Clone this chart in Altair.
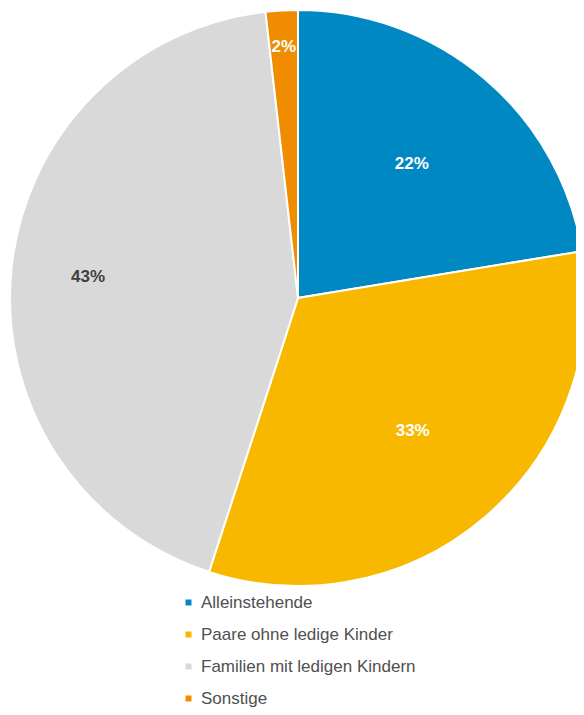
import altair as alt
import pandas as pd

categories = ["Alleinstehende", "Paare ohne ledige Kinder", "Familien mit ledigen Kindern", "Sonstige"]
shares = [22.4, 32.6, 43.2, 1.8]
colors = ["#0088C2", "#F9B800", "#D9D9D9", "#F08C00"]

df = pd.DataFrame({
    "Kategorie": categories,
    "Anteil": shares,
    "idx": list(range(len(categories))),
})

theta_scale = alt.Scale(domain=[0, 100], range=[0, 6.283185307])

arcs = alt.Chart(df).mark_arc(outerRadius=288, stroke="white", strokeWidth=2).encode(
    theta=alt.Theta("Anteil:Q", stack=True, scale=theta_scale),
    order=alt.Order("idx:Q", sort="ascending"),
    x=alt.value(290),
    y=alt.value(290),
    color=alt.Color(
        "Kategorie:N",
        scale=alt.Scale(domain=categories, range=colors),
        sort=categories,
        legend=alt.Legend(
            title=None,
            orient="none",
            legendX=172,
            legendY=586,
            symbolType="square",
            symbolSize=36,
            symbolStrokeWidth=0,
            labelFontSize=17,
            labelFont="Liberation Sans",
            labelColor="#505050",
            labelLimit=0,
            rowPadding=14,
            labelOffset=4,
        ),
    ),
)

labels = alt.Chart(df).transform_window(
    cum="sum(Anteil)", sort=[alt.SortField("idx", order="ascending")], frame=[None, 0]
).transform_calculate(
    mid="datum.cum - datum.Anteil / 2",
    lbl="format(datum.Anteil / 100, '.0%')",
    r="datum.Anteil < 5 ? 251 : (datum.Anteil > 40 ? 211 : 176)",
).mark_text(fontSize=17, fontWeight="bold", font="Liberation Sans").encode(
    theta=alt.Theta("mid:Q", stack=None, scale=theta_scale),
    radius=alt.Radius("r:Q", scale=None),
    x=alt.value(290),
    y=alt.value(290),
    text="lbl:N",
    color=alt.condition("datum.Anteil > 40", alt.value("#404040"), alt.value("#FFFFFF")),
)

chart = alt.layer(arcs, labels).properties(
    width=568,
    height=700,
    autosize=alt.AutoSizeParams(type="none"),
    padding=0,
).configure_view(stroke=None)

chart.save("out.html", embed_options={"renderer": "svg", "actions": False})
